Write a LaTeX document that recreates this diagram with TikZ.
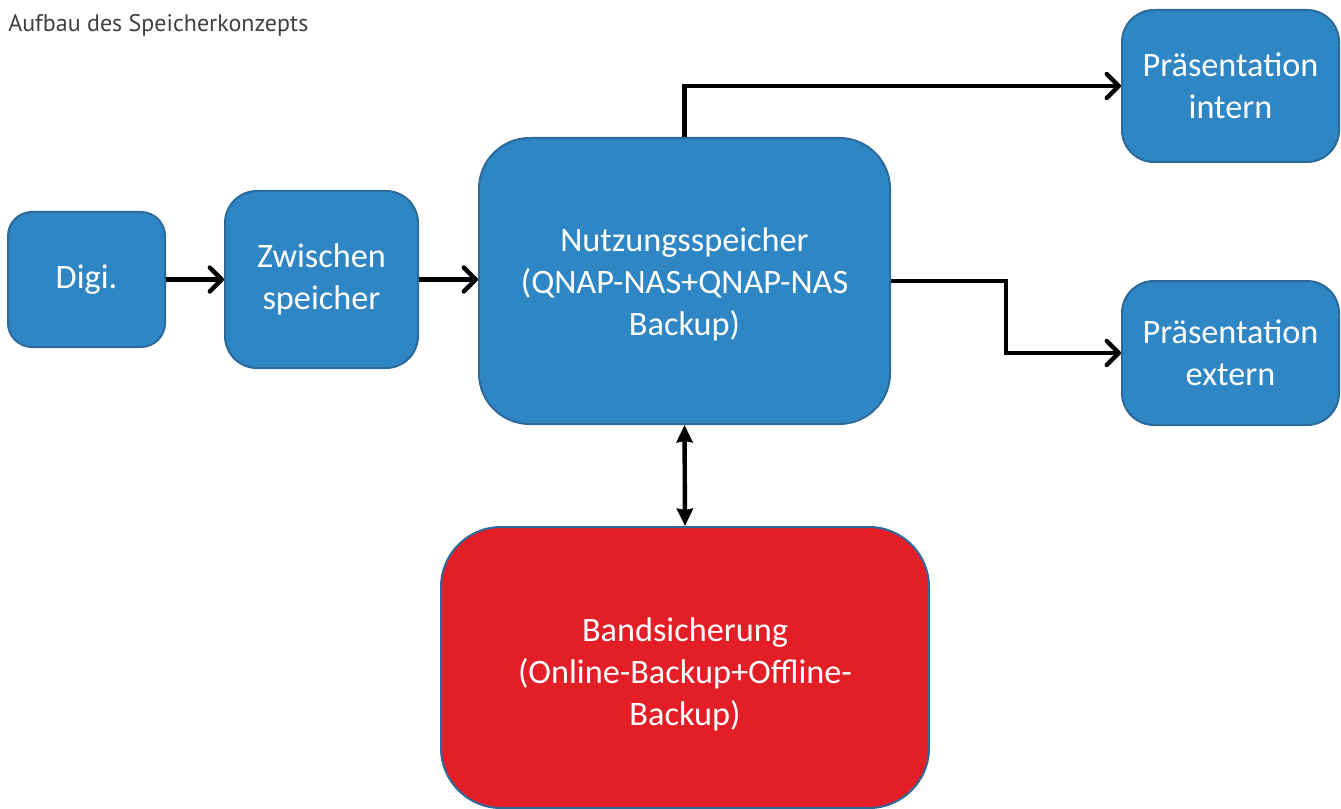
\documentclass[tikz,border=0pt]{standalone}
\usepackage{fontspec}
\setmainfont{Carlito}
\newfontfamily\titlefont{PT Sans}
\usetikzlibrary{arrows.meta,calc}
\definecolor{boxblue}{HTML}{2E86C5}
\definecolor{boxedge}{HTML}{2B6A9B}
\definecolor{boxred}{HTML}{E41E26}
\definecolor{titlegray}{HTML}{404040}
\tikzset{
  blk/.style={draw=boxedge, line width=1.5pt, fill=boxblue, text=white, align=center,
    font=\fontsize{25.7}{31.5}\selectfont, inner sep=0pt},
  lbl/.style={text=white, align=center, font=\fontsize{25.7}{31.5}\selectfont, inner sep=0pt},
  conn/.style={line width=3.3pt, draw=black},
  barb/.style={-{Straight Barb[round,length=9pt,width=18pt]}},
  both/.style={{Stealth[length=13pt,width=12pt,inset=1pt]}-{Stealth[length=13pt,width=12pt,inset=1pt]}}
}
\begin{document}
\begin{tikzpicture}[x=0.75pt,y=-0.75pt]
\useasboundingbox (0,0) rectangle (1341,809);
\node[anchor=base west, font=\titlefont\fontsize{18}{21}\selectfont, text=titlegray, inner sep=0pt] (title) at (8,31.5) {Aufbau des Speicherkonzepts};
\node[blk, minimum width=117.75pt, minimum height=101.25pt, rounded corners=18pt] (digi) at (86.5,279.5) {Digi.};
\node[blk, minimum width=144.75pt, minimum height=132.75pt, rounded corners=24pt] (zw) at (321.5,279.5) {Zwischen\\speicher};
\node[blk, minimum width=308.25pt, minimum height=214.5pt, rounded corners=38pt] (nutz) at (684.5,281) {};
\node[lbl] (nutztext) at (684.5,284) {Nutzungsspeicher\\(QNAP-NAS+QNAP-NAS\\Backup)};
\node[blk, minimum width=162.75pt, minimum height=114pt, rounded corners=24pt] (intern) at (1230.5,86) {Präsentation\\intern};
\node[blk, minimum width=162.75pt, minimum height=108pt, rounded corners=24pt] (extern) at (1230.5,353) {Präsentation\\extern};
\node[blk, fill=boxred, minimum width=366pt, minimum height=210.75pt, rounded corners=45pt] (band) at (685,667.5) {};
\node[lbl] (bandtext) at (685,674) {Bandsicherung\\(Online-Backup+Offline-\\Backup)};
\draw[conn, barb] (digi.east) -- (zw.west);
\draw[conn, barb] (zw.east) -- (zw.east -| nutz.west);
\draw[conn, barb] (nutz.north) |- (intern.west);
\draw[conn, barb] (nutz.east) -| ($(nutz.east)!0.5!(extern.west)$) |- (extern.west);
\draw[conn, both] (nutz.south) -- (band.north);
\end{tikzpicture}
\end{document}
